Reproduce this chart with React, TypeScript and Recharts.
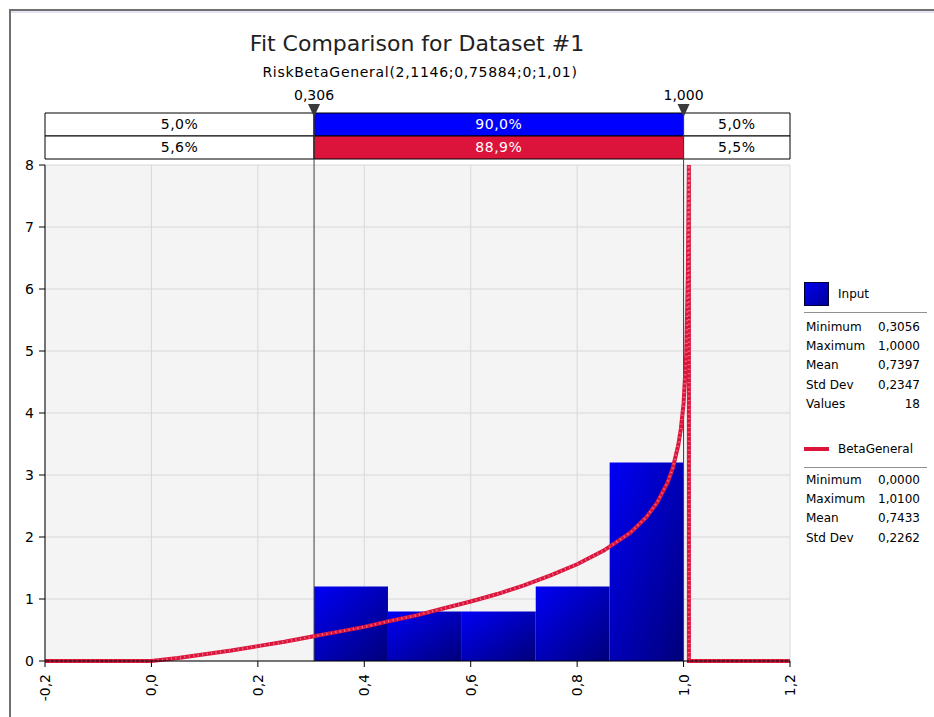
import React from 'react';
import {
  ComposedChart,
  Line,
  XAxis,
  YAxis,
  CartesianGrid,
  ReferenceArea,
  ReferenceLine,
  ReferenceDot,
} from 'recharts';

const FONT = '"DejaVu Sans", Verdana, sans-serif';

const xTicks = [-0.2, 0, 0.2, 0.4, 0.6, 0.8, 1.0, 1.2];
const yTicks = [0, 1, 2, 3, 4, 5, 6, 7, 8];

// histogram of the input values (density per bin)
const binEdges = [0.3056, 0.4445, 0.5834, 0.7222, 0.8611, 1.0];
const binDensity = [1.2, 0.8, 0.8, 1.2, 3.2];

// fitted BetaGeneral density
const curveX = [
  -0.2, 0, 0.05, 0.1, 0.15, 0.2, 0.25, 0.3, 0.35, 0.4, 0.45, 0.5, 0.55, 0.6, 0.65, 0.7,
  0.75, 0.8, 0.85, 0.9, 0.93, 0.95, 0.97, 0.98, 0.99, 0.995, 1.0, 1.005, 1.008, 1.01, 1.01, 1.2,
];
const curveY = [
  0, 0, 0.05, 0.11, 0.17, 0.24, 0.31, 0.39, 0.47, 0.55, 0.65, 0.74, 0.85, 0.96, 1.08, 1.22,
  1.38, 1.56, 1.78, 2.07, 2.32, 2.55, 2.88, 3.12, 3.48, 3.75, 4.15, 4.94, 6.2, 8, 0, 0,
];

// delimiter markers and the percentages they split
const markerValues = [0.3056, 1.0];
const markerLabels = ['0,306', '1,000'];
const inputBand = ['5,0%', '90,0%', '5,0%'];
const fitBand = ['5,6%', '88,9%', '5,5%'];

const inputStats = [
  ['Minimum', '0,3056'],
  ['Maximum', '1,0000'],
  ['Mean', '0,7397'],
  ['Std Dev', '0,2347'],
  ['Values', '18'],
];
const fitStats = [
  ['Minimum', '0,0000'],
  ['Maximum', '1,0100'],
  ['Mean', '0,7433'],
  ['Std Dev', '0,2262'],
];

const RED = '#dc143c';

// plot spans y=165..661 for 0..8, the bands above reuse the same scale
const PLOT_TOP = 165;
const PX_PER_UNIT = (661 - PLOT_TOP) / 8;
const yAbove = (px: number) => 8 + (PLOT_TOP - px) / PX_PER_UNIT;

const curve = curveX.map((x, i) => ({ x, y: curveY[i] }));
const fmt = (v: number) => v.toFixed(1).replace('.', ',');

function XTick({ x, y, payload }: any) {
  return (
    <text
      x={x}
      y={y + 5}
      transform={`rotate(-90 ${x} ${y + 5})`}
      textAnchor="end"
      dominantBaseline="central"
      fontSize={14}
      fontFamily={FONT}
      fill="#000"
    >
      {fmt(payload.value)}
    </text>
  );
}

function Marker({ cx, cy, text }: any) {
  return (
    <g>
      <path d={`M${cx - 6},${cy - 9} L${cx + 6},${cy - 9} L${cx},${cy + 4} Z`} fill="#3a3a3a" />
      <text x={cx} y={cy - 13} textAnchor="middle" fontSize={14} fontFamily={FONT} fill="#000">
        {text}
      </text>
    </g>
  );
}

function bandRow(labels: string[], fill: string, top: number, bottom: number, key: string) {
  const edges = [-0.2, markerValues[0], markerValues[1], 1.2];
  return labels.map((t, i) => (
    <ReferenceArea
      key={`${key}${i}`}
      x1={edges[i]}
      x2={edges[i + 1]}
      y1={yAbove(bottom)}
      y2={yAbove(top)}
      ifOverflow="visible"
      fill={i === 1 ? fill : '#fff'}
      fillOpacity={1}
      stroke="#000"
      strokeWidth={1}
      label={{
        value: t,
        position: 'center',
        fill: i === 1 ? '#fff' : '#000',
        fontSize: 14,
        fontFamily: FONT,
        letterSpacing: 0.5,
      }}
    />
  ));
}

function StatRows({ rows, top }: { rows: string[][]; top: number }) {
  return (
    <>
      {rows.map(([k, v], i) => (
        <div
          key={k}
          style={{
            position: 'absolute',
            left: 806,
            width: 114,
            top: top + i * 19.2,
            fontSize: 12,
            lineHeight: '16px',
            display: 'flex',
            justifyContent: 'space-between',
          }}
        >
          <span>{k}</span>
          <span>{v}</span>
        </div>
      ))}
    </>
  );
}

export default function App() {
  return (
    <div
      style={{
        position: 'absolute',
        left: 0,
        top: 0,
        width: 934,
        height: 717,
        background: '#fff',
        fontFamily: FONT,
        color: '#000',
        overflow: 'hidden',
      }}
    >
      <div
        style={{
          position: 'absolute',
          left: 9,
          top: 9,
          right: -4,
          bottom: -4,
          borderTop: '2px solid #707070',
          borderLeft: '2px solid #707070',
        }}
      />
      <div style={{ position: 'absolute', left: 11, right: 0, top: 11, height: 2, background: '#e4e4f2' }} />

      <div
        style={{
          position: 'absolute',
          left: 0,
          width: 834,
          top: 30,
          textAlign: 'center',
          fontSize: 22,
          lineHeight: '28px',
          color: '#222',
        }}
      >
        Fit Comparison for Dataset #1
      </div>
      <div
        style={{
          position: 'absolute',
          left: 0,
          width: 840,
          top: 63,
          textAlign: 'center',
          fontSize: 14,
          letterSpacing: 0.7,
          lineHeight: '18px',
        }}
      >
        RiskBetaGeneral(2,1146;0,75884;0;1,01)
      </div>

      <div style={{ position: 'absolute', left: 0, top: 0 }}>
        <ComposedChart
          width={934}
          height={717}
          data={curve}
          margin={{ top: PLOT_TOP, right: 144, bottom: 6, left: 5 }}
        >
          <defs>
            <linearGradient id="binFill" x1="0" y1="0" x2="1" y2="1">
              <stop offset="0%" stopColor="#0000f6" />
              <stop offset="100%" stopColor="#00007a" />
            </linearGradient>
          </defs>
          <CartesianGrid fill="#f4f4f4" stroke="#d8d8d8" />
          <XAxis
            type="number"
            dataKey="x"
            domain={[-0.2, 1.2]}
            ticks={xTicks}
            interval={0}
            height={50}
            stroke="#000"
            tickSize={6}
            tick={(p: any) => <XTick {...p} />}
          />
          <YAxis
            type="number"
            domain={[0, 8]}
            ticks={yTicks}
            interval={0}
            width={40}
            stroke="#000"
            tickSize={6}
            tickMargin={5}
            tick={{ fontSize: 14, fill: '#000', fontFamily: FONT }}
          />
          {binDensity.map((h, i) => (
            <ReferenceArea
              key={`bin${i}`}
              x1={binEdges[i]}
              x2={binEdges[i + 1]}
              y1={0}
              y2={h}
              fill="url(#binFill)"
              fillOpacity={1}
              stroke="none"
            />
          ))}
          {bandRow(inputBand, '#0000ff', 113, 136, 'in')}
          {bandRow(fitBand, RED, 136, 159, 'fit')}
          {markerValues.map((v) => (
            <ReferenceLine
              key={`ml${v}`}
              segment={[
                { x: v, y: 0 },
                { x: v, y: yAbove(113) },
              ]}
              ifOverflow="visible"
              stroke="#404040"
              strokeWidth={1}
            />
          ))}
          {markerValues.map((v, i) => (
            <ReferenceDot
              key={`md${v}`}
              x={v}
              y={yAbove(113)}
              ifOverflow="visible"
              shape={(p: any) => <Marker cx={p.cx} cy={p.cy} text={markerLabels[i]} />}
            />
          ))}
          <Line
            type="linear"
            dataKey="y"
            stroke={RED}
            strokeWidth={4}
            dot={false}
            activeDot={false}
            isAnimationActive={false}
          />
          {/* light hatching over the fitted curve */}
          <Line
            type="linear"
            dataKey="y"
            stroke="#ffffff"
            strokeOpacity={0.35}
            strokeWidth={2.5}
            strokeDasharray="1.2 3.3"
            dot={false}
            activeDot={false}
            legendType="none"
            isAnimationActive={false}
          />
        </ComposedChart>
      </div>

      {/* legend: input histogram */}
      <div
        style={{
          position: 'absolute',
          left: 804,
          top: 282,
          width: 23,
          height: 22,
          border: '1px solid #000030',
          background: 'linear-gradient(135deg, #0000f0, #00009a)',
        }}
      />
      <div style={{ position: 'absolute', left: 838, top: 286, fontSize: 12, lineHeight: '16px' }}>Input</div>
      <div style={{ position: 'absolute', left: 804, width: 123, top: 312, height: 1, background: '#909090' }} />
      <StatRows rows={inputStats} top={319} />

      {/* legend: fitted distribution */}
      <div style={{ position: 'absolute', left: 804, top: 447, width: 25, height: 4, background: RED }} />
      <div style={{ position: 'absolute', left: 838, top: 441, fontSize: 12, lineHeight: '16px' }}>
        BetaGeneral
      </div>
      <div style={{ position: 'absolute', left: 804, width: 123, top: 467, height: 1, background: '#909090' }} />
      <StatRows rows={fitStats} top={472} />
    </div>
  );
}
